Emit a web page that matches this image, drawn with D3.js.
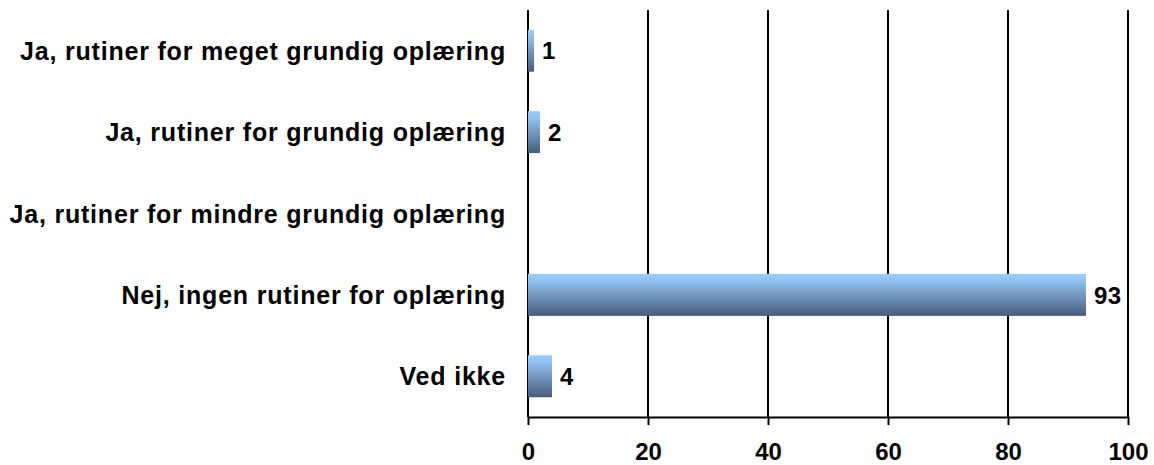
<!DOCTYPE html>
<html><head><meta charset="utf-8">
<script src="https://cdn.jsdelivr.net/npm/d3@7"></script>
<style>body{margin:0;background:#fff}svg{display:block}text{font-family:"Liberation Sans",Arial,sans-serif;font-weight:bold}</style>
</head><body><svg id="c" width="1154" height="465"></svg>
<script>
const categories = ["Ja, rutiner for meget grundig oplæring","Ja, rutiner for grundig oplæring","Ja, rutiner for mindre grundig oplæring","Nej, ingen rutiner for oplæring","Ved ikke"];
const values = [1, 2, 0, 93, 4];
const xTicks = [0, 20, 40, 60, 80, 100];

const svg = d3.select("#c");
const mL = 528, mR = 1128, mT = 10, mB = 417;
const x = d3.scaleLinear().domain([0, 100]).range([mL, mR]);
const y = d3.scaleBand().domain(categories).range([mT, mB]).paddingInner(0.485).paddingOuter(0.2425);

const defs = svg.append("defs");
const g = defs.append("linearGradient").attr("id","bg").attr("x1",0).attr("y1",0).attr("x2",0).attr("y2",1);
g.append("stop").attr("offset","0%").attr("stop-color","#99CCFF");
g.append("stop").attr("offset","15%").attr("stop-color","#93C3F3");
g.append("stop").attr("offset","100%").attr("stop-color","#485C7B");

// gridlines
svg.append("g").selectAll("line").data(xTicks).join("line")
  .attr("x1", d=>x(d)).attr("x2", d=>x(d)).attr("y1", mT).attr("y2", mB)
  .attr("stroke","#000").attr("stroke-width",2);

// bars
svg.append("g").selectAll("rect").data(values).join("rect")
  .attr("x", x(0)).attr("y", (d,i)=>y(categories[i]))
  .attr("width", d=>x(d)-x(0)).attr("height", y.bandwidth())
  .attr("fill","url(#bg)");

// value labels
svg.append("g").selectAll("text").data(values.map((v,i)=>({v,c:categories[i]})).filter(d=>d.v>0)).join("text")
  .attr("x", d=>x(d.v)+8).attr("y", d=>y(d.c)+y.bandwidth()/2).attr("dy","0.36em")
  .attr("font-size",24).attr("letter-spacing","0.5px").text(d=>d.v);

// x axis
const xa = svg.append("g").attr("transform",`translate(0,${mB})`)
  .call(d3.axisBottom(x).tickValues(xTicks).tickSize(8).tickPadding(18).tickSizeOuter(0));
xa.select(".domain").attr("stroke","#000").attr("stroke-width",2);
xa.selectAll(".tick line").attr("stroke","#000").attr("stroke-width",2);
xa.selectAll("text").attr("font-size",24).attr("fill","#000").attr("font-family",'"Liberation Sans",Arial,sans-serif').attr("font-weight","bold");

// category labels
svg.append("g").selectAll("text").data(categories).join("text")
  .attr("x", 506).attr("y", d=>y(d)+y.bandwidth()/2).attr("dy","0.36em")
  .attr("text-anchor","end").attr("font-size",25).attr("letter-spacing","0.8px").text(d=>d);
</script></body></html>
